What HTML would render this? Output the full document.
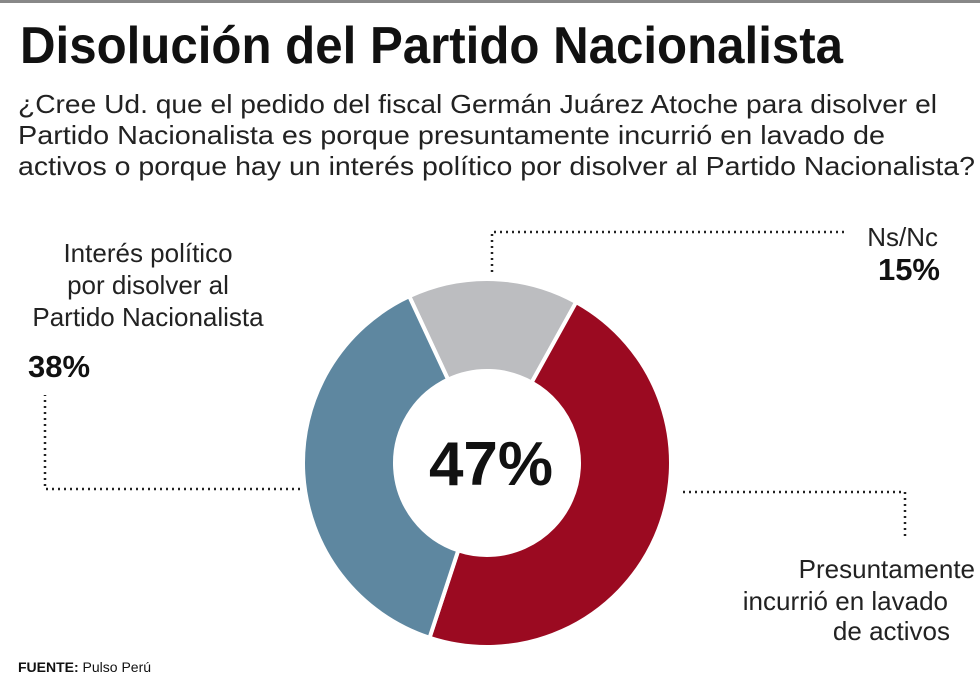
<!DOCTYPE html>
<html><head><meta charset="utf-8"><style>
html,body{margin:0;padding:0;background:#fff;}
svg{display:block;font-family:"Liberation Sans",sans-serif;}
</style></head><body>
<svg width="980" height="687" viewBox="0 0 980 687">
<rect x="0" y="0" width="980" height="3" fill="#888"/>
<text x="20" y="63" font-size="52" font-weight="bold" textLength="823" lengthAdjust="spacingAndGlyphs" fill="#111">Disolución del Partido Nacionalista</text>
<g font-size="26" fill="#222">
<text x="18" y="113" textLength="919" lengthAdjust="spacingAndGlyphs">¿Cree Ud. que el pedido del fiscal Germán Juárez Atoche para disolver el</text>
<text x="18" y="144" textLength="867" lengthAdjust="spacingAndGlyphs">Partido Nacionalista es porque presuntamente incurrió en lavado de</text>
<text x="18" y="175" textLength="957" lengthAdjust="spacingAndGlyphs">activos o porque hay un interés político por disolver al Partido Nacionalista?</text>
</g>
<g id="donut"></g>
<text x="491" y="485" font-size="62" font-weight="bold" text-anchor="middle" fill="#111">47%</text>
<g fill="none" stroke="#222" stroke-width="2.5" stroke-dasharray="2 4">
<polyline points="300,489 45,489 45,395"/>
<polyline points="492,272 492,232 845,232"/>
<polyline points="683,492 905,492 905,537"/>
</g>
<g font-size="26" fill="#222" text-anchor="middle">
<text x="148" y="262">Interés político</text>
<text x="148" y="294">por disolver al</text>
<text x="148" y="326">Partido Nacionalista</text>
</g>
<text x="28" y="377" font-size="31" font-weight="bold" fill="#111">38%</text>
<text x="938" y="246" font-size="26" fill="#222" text-anchor="end">Ns/Nc</text>
<text x="940" y="280" font-size="31" font-weight="bold" fill="#111" text-anchor="end">15%</text>
<g font-size="26" fill="#222" text-anchor="end">
<text x="975" y="578">Presuntamente</text>
<text x="948" y="610">incurrió en lavado</text>
<text x="950" y="640">de activos</text>
</g>
<text x="18" y="672" font-size="14" fill="#111"><tspan font-weight="bold">FUENTE:</tspan> Pulso Perú</text>
</svg>
<script>
const categories = ["Ns/Nc", "Presuntamente incurrió en lavado de activos", "Interés político"];
const values = [15, 47, 38];
const colors = ["#bcbdc0", "#9b0a21", "#5e87a0"];
const cx = 487, cy = 463, R = 184, r = 92, startDeg = -25;
const g = document.getElementById('donut');
const total = values.reduce((a, b) => a + b, 0);
let a = startDeg;
function pt(deg, rad) {
  const t = (deg - 90) * Math.PI / 180;
  return [cx + rad * Math.cos(t), cy + rad * Math.sin(t)];
}
values.forEach((v, i) => {
  const sweep = v / total * 360;
  const a2 = a + sweep;
  const large = sweep > 180 ? 1 : 0;
  const p1 = pt(a, R), p2 = pt(a2, R), p3 = pt(a2, r), p4 = pt(a, r);
  const p = document.createElementNS('http://www.w3.org/2000/svg', 'path');
  p.setAttribute('d', `M${p1[0]},${p1[1]} A${R},${R} 0 ${large} 1 ${p2[0]},${p2[1]} L${p3[0]},${p3[1]} A${r},${r} 0 ${large} 0 ${p4[0]},${p4[1]} Z`);
  p.setAttribute('fill', colors[i]);
  p.setAttribute('stroke', '#fff');
  p.setAttribute('stroke-width', '4');
  
  
  g.appendChild(p);
  a = a2;
});
</script>
</body></html>
